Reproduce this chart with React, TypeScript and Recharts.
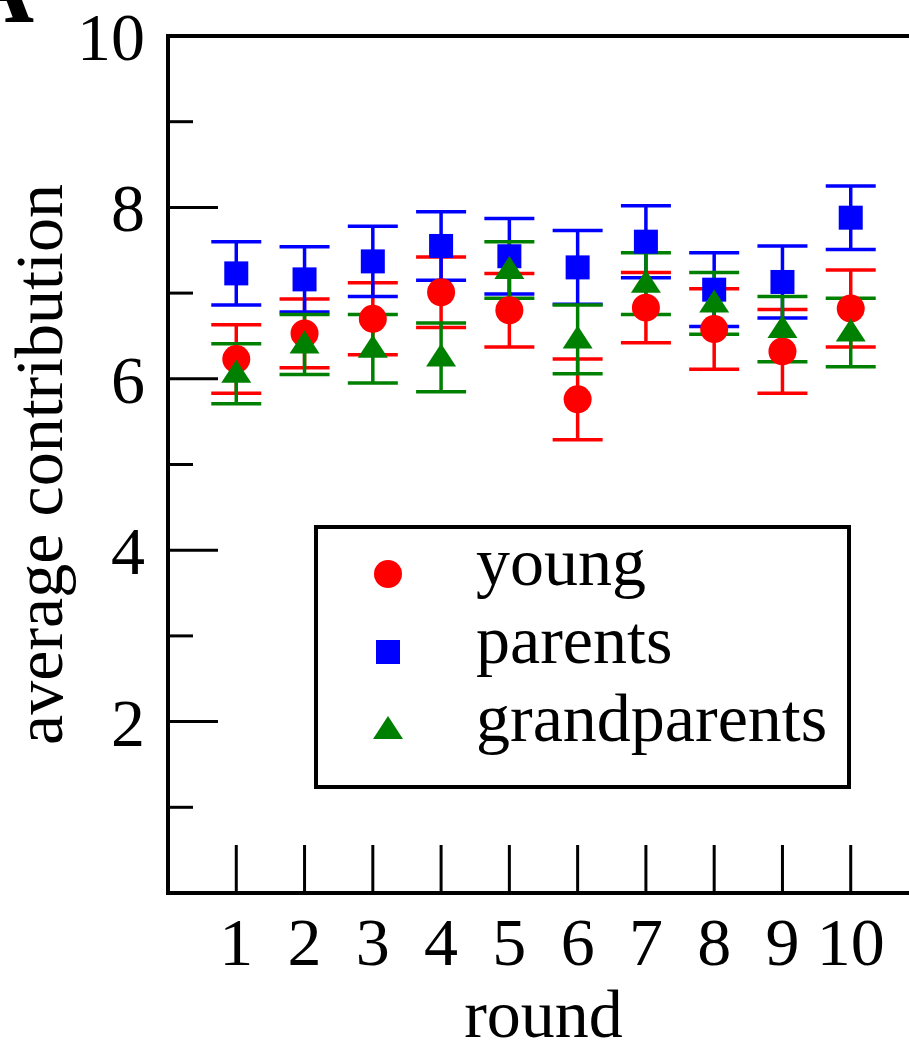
import React from "react";
import { ScatterChart, Scatter, XAxis, YAxis, ErrorBar, Legend } from "recharts";

const rounds = [1, 2, 3, 4, 5, 6, 7, 8, 9, 10];
const youngMean = [6.23, 6.53, 6.7, 7.01, 6.8, 5.76, 6.83, 6.58, 6.32, 6.82];
const youngErr = [0.4, 0.4, 0.42, 0.41, 0.43, 0.47, 0.41, 0.47, 0.49, 0.45];
const parentsMean = [7.23, 7.16, 7.37, 7.55, 7.43, 7.3, 7.6, 7.04, 7.13, 7.88];
const parentsErr = [0.37, 0.38, 0.41, 0.4, 0.44, 0.43, 0.42, 0.43, 0.42, 0.37];
const grandMean = [6.06, 6.4, 6.35, 6.25, 7.27, 6.46, 7.11, 6.88, 6.58, 6.54];
const grandErr = [0.35, 0.35, 0.4, 0.4, 0.33, 0.4, 0.36, 0.36, 0.38, 0.4];

const yTicks = [0, 1, 2, 3, 4, 5, 6, 7, 8, 9, 10];
const yLabels = [2, 4, 6, 8, 10];
const seriesNames = ["young", "parents", "grandparents"];
const seriesColors = ["#ff0000", "#0000ff", "#008000"];

const serif: React.CSSProperties = { fontFamily: "Liberation Serif", fontSize: 68 };

const toRows = (mean: number[], err: number[]) =>
  rounds.map((r, i) => ({ round: r, value: mean[i], err: err[i] }));

const youngData = toRows(youngMean, youngErr);
const parentsData = toRows(parentsMean, parentsErr);
const grandData = toRows(grandMean, grandErr);

// marker shapes
const Dot = ({ cx, cy }: any) => <circle cx={cx} cy={cy} r={14} fill={seriesColors[0]} />;
const Square = ({ cx, cy }: any) => (
  <rect x={cx - 12} y={cy - 12} width={24} height={24} fill={seriesColors[1]} />
);
const Tri = ({ cx, cy }: any) => (
  <polygon points={`${cx},${cy - 14} ${cx - 15},${cy + 9} ${cx + 15},${cy + 9}`} fill={seriesColors[2]} />
);
const markers = [Dot, Square, Tri];

// ticks point inwards, labels sit outside
const LeftTick = ({ x, y, payload }: any) => {
  const v = payload.value;
  const len = v % 2 === 0 ? 50 : 25;
  return (
    <g>
      <line x1={x} y1={y} x2={x + len} y2={y} stroke="#000" strokeWidth={3} />
      {yLabels.includes(v) && (
        <text x={x - 23} y={y + 24} textAnchor="end" style={serif} fill="#000">
          {v}
        </text>
      )}
    </g>
  );
};

const RightTick = ({ x, y, payload }: any) => {
  const len = payload.value % 2 === 0 ? 50 : 25;
  return <line x1={x} y1={y} x2={x - len} y2={y} stroke="#000" strokeWidth={3} />;
};

const BottomTick = ({ x, y, payload }: any) => (
  <g>
    <line x1={x} y1={y} x2={x} y2={y - 48} stroke="#000" strokeWidth={3} />
    <text x={x} y={y + 72} textAnchor="middle" style={serif} fill="#000">
      {payload.value}
    </text>
  </g>
);

const TopTick = ({ x, y }: any) => <line x1={x} y1={y} x2={x} y2={y + 48} stroke="#000" strokeWidth={3} />;

const XLabel = ({ viewBox }: any) => (
  <text x={viewBox.x + viewBox.width / 2} y={viewBox.y + 144} textAnchor="middle" style={serif} fill="#000">
    round
  </text>
);

const YLabel = ({ viewBox }: any) => {
  const cx = viewBox.x + 4;
  const cy = viewBox.y + viewBox.height / 2;
  return (
    <text x={cx} y={cy} transform={`rotate(-90 ${cx} ${cy})`} textAnchor="middle" style={serif} fill="#000">
      average contribution
    </text>
  );
};

const LegendBox = () => (
  <svg width={537} height={264} style={{ display: "block", overflow: "visible" }}>
    <rect x={2} y={2} width={533} height={260} fill="#fff" stroke="#000" strokeWidth={4} />
    {seriesNames.map((name, i) => {
      const Marker = markers[i];
      const base = 60 + i * 78;
      return (
        <g key={name}>
          <Marker cx={74} cy={base - 11} />
          <text x={162} y={base} style={serif} fill="#000">
            {name}
          </text>
        </g>
      );
    })}
  </svg>
);

const axisStroke = { stroke: "#000", strokeWidth: 4, strokeLinecap: "square" as const };

const App = () => {
  return (
    <div style={{ position: "absolute", left: 0, top: 0, width: 909, height: 1043, overflow: "hidden", background: "#fff" }}>
      {/* panel letter, mostly cut off by the top edge */}
      <svg width={60} height={30} style={{ position: "absolute", left: 0, top: 0 }}>
        <text x={34} y={22} textAnchor="end" style={{ fontFamily: "Liberation Serif", fontSize: 96, fontWeight: "bold" }} fill="#000">
          A
        </text>
      </svg>
      <ScatterChart width={929} height={1043} margin={{ top: 26, right: 0, bottom: 0, left: 58 }}>
        <XAxis
          type="number"
          dataKey="round"
          domain={[0, 11]}
          ticks={rounds}
          interval={0}
          height={150}
          axisLine={axisStroke}
          tickLine={false}
          tickSize={0}
          tickMargin={0}
          tick={<BottomTick />}
          label={<XLabel />}
        />
        <XAxis
          xAxisId="top"
          orientation="top"
          type="number"
          domain={[0, 11]}
          ticks={rounds}
          interval={0}
          height={10}
          axisLine={axisStroke}
          tickLine={false}
          tickSize={0}
          tickMargin={0}
          tick={<TopTick />}
        />
        <YAxis
          type="number"
          dataKey="value"
          domain={[0, 10]}
          ticks={yTicks}
          interval={0}
          width={110}
          axisLine={axisStroke}
          tickLine={false}
          tickSize={0}
          tickMargin={0}
          tick={<LeftTick />}
          label={<YLabel />}
        />
        <YAxis
          yAxisId="right"
          orientation="right"
          type="number"
          domain={[0, 10]}
          ticks={yTicks}
          interval={0}
          width={10}
          axisLine={axisStroke}
          tickLine={false}
          tickSize={0}
          tickMargin={0}
          tick={<RightTick />}
        />
        <Legend
          layout="vertical"
          align="center"
          verticalAlign="middle"
          content={<LegendBox />}
          wrapperStyle={{ position: "absolute", left: 314, top: 525, width: 537, height: 264 }}
        />
        <Scatter name={seriesNames[0]} data={youngData} fill={seriesColors[0]} shape={<Dot />} isAnimationActive={false}>
          <ErrorBar dataKey="err" direction="y" width={25} stroke={seriesColors[0]} strokeWidth={3.5} isAnimationActive={false} />
        </Scatter>
        <Scatter name={seriesNames[1]} data={parentsData} fill={seriesColors[1]} shape={<Square />} isAnimationActive={false}>
          <ErrorBar dataKey="err" direction="y" width={25} stroke={seriesColors[1]} strokeWidth={3.5} isAnimationActive={false} />
        </Scatter>
        <Scatter name={seriesNames[2]} data={grandData} fill={seriesColors[2]} shape={<Tri />} isAnimationActive={false}>
          <ErrorBar dataKey="err" direction="y" width={25} stroke={seriesColors[2]} strokeWidth={3.5} isAnimationActive={false} />
        </Scatter>
      </ScatterChart>
    </div>
  );
};

export default App;
